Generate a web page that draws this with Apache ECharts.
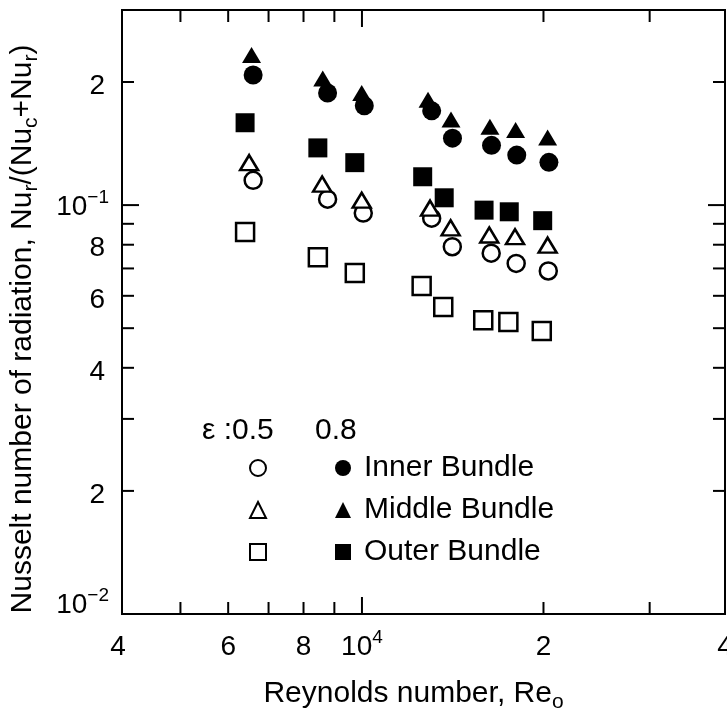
<!DOCTYPE html>
<html><head><meta charset="utf-8">
<script src="https://cdn.jsdelivr.net/npm/echarts@6/dist/echarts.min.js"></script>
<style>html,body{margin:0;padding:0;background:#fff}#c{width:727px;height:714px}</style>
</head><body><div id="c"></div>
<script>
// ---- axis ranges & ticks ----
const xMin = 4000, xMax = 40000, yMin = 0.01, yMax = 0.3;
const xMinorTicks = [5000, 6000, 7000, 8000, 9000, 20000, 30000];
const xMajorTicks = [10000];
const yMinorTicks = [0.02, 0.03, 0.04, 0.05, 0.06, 0.07, 0.08, 0.09, 0.2];
const yMajorTicks = [0.1];
const xLabelValues = [4000, 6000, 8000, 10000, 20000, 40000];
const xLabelTexts = ['4', '6', '8', '10{sup|4}', '2', '4'];
const yLabelValues = [0.01, 0.02, 0.04, 0.06, 0.08, 0.1, 0.2];
const yLabelTexts = ['10{sup|−2}', '2', '4', '6', '8', '10{sup|−1}', '2'];

// ---- data: epsilon = 0.5 (open symbols) ----
const innerOpenRe  = [6600, 8770, 10050, 13050, 14120, 16380, 18020, 20370];
const innerOpenNu  = [0.115, 0.1034, 0.0956, 0.0929, 0.0791, 0.0763, 0.0720, 0.0690];
const middleOpenRe = [6500, 8590, 9990, 12970, 14030, 16260, 17940, 20320];
const middleOpenNu = [0.127, 0.1126, 0.1028, 0.0983, 0.0880, 0.0845, 0.0837, 0.0798];
const outerOpenRe  = [6400, 8450, 9730, 12560, 13640, 15890, 17490, 19870];
const outerOpenNu  = [0.0859, 0.0746, 0.0682, 0.0634, 0.0563, 0.0523, 0.0518, 0.0492];
// ---- data: epsilon = 0.8 (filled symbols) ----
const innerFilledRe  = [6600, 8770, 10090, 13050, 14130, 16400, 18060, 20420];
const innerFilledNu  = [0.208, 0.188, 0.175, 0.170, 0.1458, 0.140, 0.1325, 0.1272];
const middleFilledRe = [6560, 8610, 9990, 12870, 14050, 16300, 17980, 20320];
const middleFilledNu = [0.233, 0.204, 0.188, 0.181, 0.162, 0.1554, 0.1526, 0.1464];
const outerFilledRe  = [6400, 8450, 9730, 12610, 13690, 15940, 17550, 19940];
const outerFilledNu  = [0.159, 0.138, 0.127, 0.1173, 0.1042, 0.0972, 0.0963, 0.0916];

const FONT = "'Liberation Sans', Arial, Helvetica, sans-serif";
const pair = (xs, ys) => xs.map((x, i) => [x, ys[i]]);

const openStyle = {color: '#fff', borderColor: '#000', borderWidth: 2.5, opacity: 1};
const filledStyle = {color: '#000', borderColor: '#000', borderWidth: 0, opacity: 1};

function scatter(name, symbol, size, data, style, z) {
  return {type: 'scatter', name, symbol, symbolSize: size, data, itemStyle: style,
          z, silent: true, clip: false};
}

const supRich = {sup: {fontSize: 19, fontFamily: FONT, color: '#000', verticalAlign: 'top'}};
const subRich = {sub: {fontSize: 21, fontFamily: FONT, color: '#000', verticalAlign: 'bottom'}};

function xTickSeries() {
  const data = xMinorTicks.map(v => [v, yMin, 0]).concat(xMajorTicks.map(v => [v, yMin, 1]));
  return {type: 'custom', silent: true, clip: false, z: 10, data,
    renderItem(params, api) {
      const cs = params.coordSys;
      const px = api.coord([api.value(0), yMin])[0];
      const len = api.value(2) === 1 ? 17 : 12;
      const b = cs.y + cs.height, t = cs.y;
      return {type: 'group', children: [
        {type: 'line', shape: {x1: px, y1: b, x2: px, y2: b - len}, style: {stroke: '#000', lineWidth: 2}},
        {type: 'line', shape: {x1: px, y1: t, x2: px, y2: t + len}, style: {stroke: '#000', lineWidth: 2}}
      ]};
    }};
}
function yTickSeries() {
  const data = yMinorTicks.map(v => [xMin, v, 0]).concat(yMajorTicks.map(v => [xMin, v, 1]));
  return {type: 'custom', silent: true, clip: false, z: 10, data,
    renderItem(params, api) {
      const cs = params.coordSys;
      const py = api.coord([xMin, api.value(1)])[1];
      const len = api.value(2) === 1 ? 17 : 12;
      const l = cs.x, r = cs.x + cs.width;
      return {type: 'group', children: [
        {type: 'line', shape: {x1: l, y1: py, x2: l + len, y2: py}, style: {stroke: '#000', lineWidth: 2}},
        {type: 'line', shape: {x1: r, y1: py, x2: r - len, y2: py}, style: {stroke: '#000', lineWidth: 2}}
      ]};
    }};
}
function xLabelSeries() {
  const data = xLabelValues.map((v, i) => [v, yMin, i]);
  return {type: 'custom', silent: true, clip: false, z: 10, data,
    renderItem(params, api) {
      const cs = params.coordSys;
      const i = api.value(2);
      const px = api.coord([api.value(0), yMin])[0];
      const txt = xLabelTexts[i];
      return {type: 'text', x: px + (i === 0 ? -4 : 0), y: cs.y + cs.height + 33,
        style: {text: txt, fill: '#000', fontSize: 28, fontFamily: FONT, lineHeight: 38,
          align: 'center', verticalAlign: 'middle', rich: supRich}};
    }};
}
function yLabelSeries() {
  const data = yLabelValues.map((v, i) => [xMin, v, i]);
  return {type: 'custom', silent: true, clip: false, z: 10, data,
    renderItem(params, api) {
      const cs = params.coordSys;
      const py = api.coord([xMin, api.value(1)])[1];
      const i = api.value(2);
      const txt = yLabelTexts[i];
      const dy = (i === 0) ? -9 : (txt.length > 2 ? 2 : 4);
      return {type: 'text', x: cs.x - (txt.length > 2 ? 13 : 17), y: py + dy,
        style: {text: txt, fill: '#000', fontSize: 28, fontFamily: FONT, lineHeight: 38,
          align: 'right', verticalAlign: 'middle', rich: supRich}};
    }};
}

const legendNames = {
  'Inner Bundle, ε=0.8': 'Inner Bundle',
  'Middle Bundle, ε=0.8': 'Middle Bundle',
  'Outer Bundle, ε=0.8': 'Outer Bundle'
};

const chart = echarts.init(document.getElementById('c'), null, {renderer: 'canvas'});
chart.setOption({
  animation: false,
  backgroundColor: '#fff',
  textStyle: {fontFamily: FONT},
  grid: {left: 122, top: 10, width: 603, height: 604, show: true, outerBoundsMode: 'none',
         containLabel: false, borderColor: '#000', borderWidth: 2, backgroundColor: 'transparent'},
  xAxis: {type: 'log', logBase: 10, min: xMin, max: xMax,
    axisLine: {show: false}, axisTick: {show: false}, axisLabel: {show: false}, splitLine: {show: false},
    name: 'Reynolds number, Re{sub|o}', nameLocation: 'middle', nameGap: 61,
    nameTextStyle: {fontSize: 30, color: '#000', fontFamily: FONT, lineHeight: 38,
      padding: [0, 20, 0, 0], rich: subRich}},
  yAxis: {type: 'log', logBase: 10, min: yMin, max: yMax,
    axisLine: {show: false}, axisTick: {show: false}, axisLabel: {show: false}, splitLine: {show: false},
    name: 'Nusselt number of radiation, Nu{sub|r}/(Nu{sub|c}+Nu{sub|r})', nameLocation: 'middle',
    nameRotate: 90, nameGap: 80,
    nameTextStyle: {fontSize: 30, color: '#000', fontFamily: FONT, lineHeight: 38,
      padding: [0, 34, 0, 0], rich: subRich}},
  legend: [
    {orient: 'vertical', left: 244, top: 448, itemWidth: 16, itemHeight: 16, itemGap: 12,
     data: ['Inner Bundle, ε=0.5', 'Middle Bundle, ε=0.5', 'Outer Bundle, ε=0.5'],
     formatter: () => ' ', selectedMode: false, itemStyle: {borderWidth: 2},
     textStyle: {fontSize: 30, color: '#000', fontFamily: FONT}},
    {orient: 'vertical', left: 330, top: 448, itemWidth: 16, itemHeight: 16, itemGap: 12,
     data: ['Inner Bundle, ε=0.8', 'Middle Bundle, ε=0.8', 'Outer Bundle, ε=0.8'],
     formatter: n => legendNames[n], selectedMode: false,
     textStyle: {fontSize: 30, color: '#000', fontFamily: FONT, padding: [0, 0, 0, 8]}}
  ],
  graphic: [
    {type: 'text', left: 202, top: 416, style: {text: 'ε :0.5', fontSize: 30, fontFamily: FONT, fill: '#000'}},
    {type: 'text', left: 315, top: 416, style: {text: '0.8', fontSize: 30, fontFamily: FONT, fill: '#000'}}
  ],
  series: [
    scatter('Inner Bundle, ε=0.5', 'circle', 17, pair(innerOpenRe, innerOpenNu), openStyle, 2),
    scatter('Middle Bundle, ε=0.5', 'triangle', [18, 15], pair(middleOpenRe, middleOpenNu), openStyle, 3),
    scatter('Outer Bundle, ε=0.5', 'rect', 18, pair(outerOpenRe, outerOpenNu), openStyle, 3),
    scatter('Inner Bundle, ε=0.8', 'circle', 19, pair(innerFilledRe, innerFilledNu), filledStyle, 4),
    scatter('Middle Bundle, ε=0.8', 'triangle', [19, 16], pair(middleFilledRe, middleFilledNu), filledStyle, 4),
    scatter('Outer Bundle, ε=0.8', 'rect', 19, pair(outerFilledRe, outerFilledNu), filledStyle, 4),
    xTickSeries(), yTickSeries(), xLabelSeries(), yLabelSeries()
  ]
});
</script></body></html>
